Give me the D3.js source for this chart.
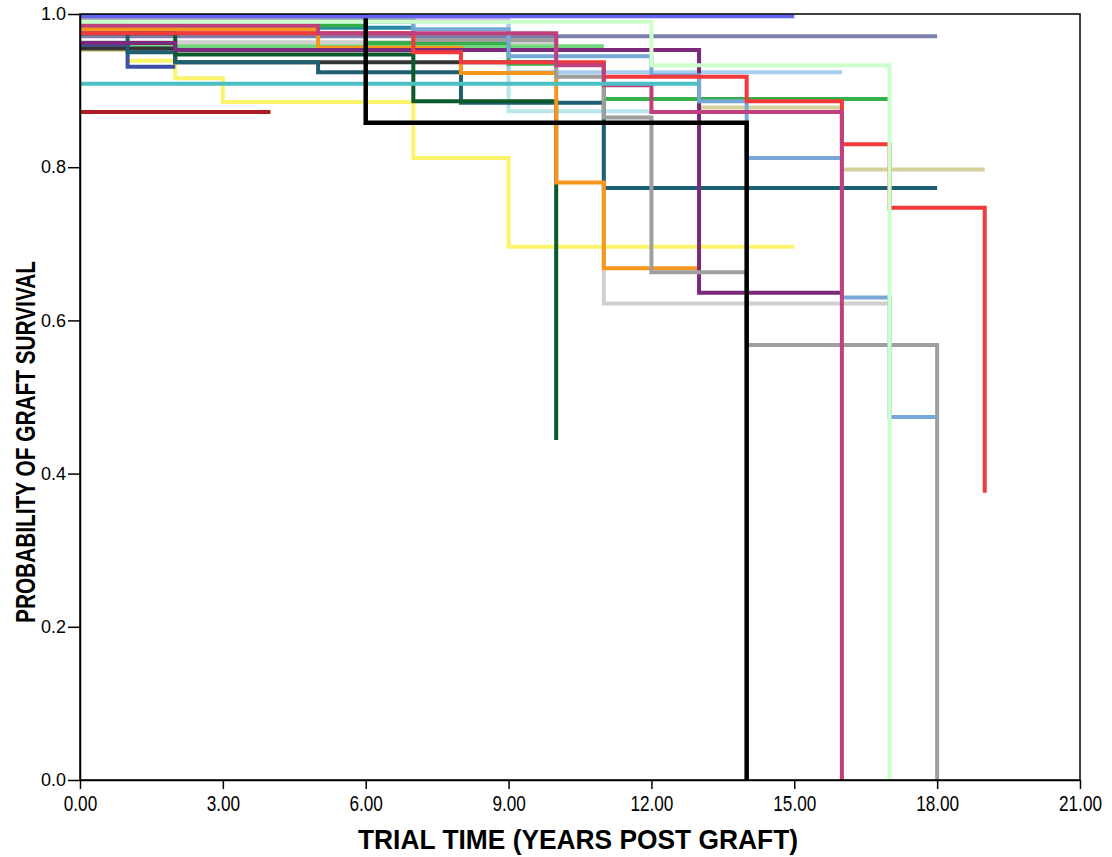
<!DOCTYPE html>
<html>
<head>
<meta charset="utf-8">
<script src="https://cdn.jsdelivr.net/npm/d3@7/dist/d3.min.js"></script>
<style>
  html, body { margin: 0; padding: 0; background: #ffffff; }
  svg { display: block; }
</style>
</head>
<body>
<svg id="chart" width="1112" height="857"></svg>
<script>
// Kaplan-Meier style graft survival curves, one per cohort.
// Each series: list of [year, survival] steps; the curve holds each value until the next step.
const lightGray  = [[0, 0.963], [10, 0.918], [11, 0.622]];
const paleCyan   = [[0, 0.990], [9, 0.873]];
const lightBlue  = [[0, 0.993], [9, 0.924]];
const slate      = [[0, 0.971]];
const pink       = [[0, 0.990], [1, 0.978]];
const tealBlue   = [[0, 0.982]];
const lavender   = [[0, 0.993]];
const khaki      = [[0, 0.953], [13, 0.878], [16, 0.797]];
const yellow     = [[0, 0.955], [1, 0.939], [2, 0.916], [3, 0.885], [7, 0.812], [9, 0.696]];
const lightGreen = [[0, 0.958]];
const darkBlue   = [[0, 0.960], [1, 0.931]];
const charcoal   = [[0, 0.955], [2, 0.937]];
const green      = [[0, 0.985], [6, 0.962], [9, 0.935], [11, 0.889]];
const darkTeal   = [[0, 0.985], [1, 0.950], [2, 0.937], [5, 0.924], [8, 0.884], [11, 0.773]];
const darkGreen  = [[0, 0.975], [2, 0.947], [7, 0.886], [10, 0.444]];
const orange     = [[0, 0.980], [5, 0.956], [8, 0.923], [10, 0.780], [11, 0.668]];
const purple     = [[0, 0.962], [2, 0.953], [13, 0.636]];
const gray       = [[0, 0.992], [7, 0.966], [10, 0.918], [11, 0.865], [12, 0.663], [14, 0.568], [18, 0]];
const steelBlue  = [[0, 0.990], [7, 0.980], [9, 0.945], [12, 0.920], [13, 0.886], [14, 0.812], [16, 0.630], [17, 0.474]];
const red        = [[0, 0.975], [7, 0.950], [8, 0.937], [11, 0.918], [14, 0.886], [16, 0.830], [17, 0.747], [19, 0.375]];
const magenta    = [[0, 0.985], [5, 0.975], [10, 0.933], [11, 0.907], [12, 0.872], [16, 0]];
const cyan       = [[0, 0.909]];
const darkRed    = [[0, 0.872]];
const paleGreen  = [[0, 0.990], [12, 0.933], [17, 0]];
const black      = [[0, 1.000], [6, 0.858], [14, 0]];
const periwinkle = [[0, 0.997]];

// Last follow-up year of each series (same order as seriesSteps)
const seriesSteps = [lightGray, paleCyan, lightBlue, slate, pink, tealBlue, lavender,
  khaki, yellow, lightGreen, darkBlue, charcoal, green, darkTeal, darkGreen, orange, purple,
  gray, steelBlue, red, magenta, cyan, darkRed, paleGreen, black, periwinkle];
const seriesEnd = [17, 12, 16, 18, 5, 7, 9,
  19, 15, 11, 2, 10, 17, 18, 10, 13, 16,
  18, 18, 19, 16, 13, 4, 17, 14, 15];
const seriesColors = ["#d0d0d0", "#b8e6ea", "#a9cdee", "#7b7fab", "#e07ab4", "#2a88a8", "#d4b4f0",
  "#d6d09c", "#fcf46a", "#72d67f", "#3b4fa8", "#353535", "#35b048", "#1e5f74", "#0b5a2e", "#f7961d", "#7b2a7b",
  "#9f9f9f", "#78a8d8", "#f03a3c", "#c0407e", "#4bc0c4", "#b01c24", "#ccffcc", "#000000", "#6464ee"];

const xTicks = [0, 3, 6, 9, 12, 15, 18, 21];
const yTicks = [0, 0.2, 0.4, 0.6, 0.8, 1.0];
const xTitle = "TRIAL TIME (YEARS POST GRAFT)";
const yTitle = "PROBABILITY OF GRAFT SURVIVAL";

const plotLeft = 80, plotRight = 1080, plotTop = 14, plotBottom = 780;
const svg = d3.select("#chart");
const x = d3.scaleLinear().domain([0, 21]).range([plotLeft, plotRight]);
const y = d3.scaleLinear().domain([0, 1]).range([plotBottom, plotTop]);

svg.append("defs").append("clipPath").attr("id", "plot-clip")
  .append("rect")
  .attr("x", plotLeft).attr("y", plotTop)
  .attr("width", plotRight - plotLeft).attr("height", plotBottom - plotTop);

// survival curves
const line = d3.line().x(d => x(d[0])).y(d => y(d[1])).curve(d3.curveStepAfter);
const curves = svg.append("g")
  .attr("clip-path", "url(#plot-clip)")
  .attr("fill", "none").attr("stroke-linejoin", "miter").attr("stroke-linecap", "butt");
seriesSteps.forEach((steps, i) => {
  const pts = steps.concat([[seriesEnd[i], steps[steps.length - 1][1]]]);
  curves.append("path")
    .attr("d", line(pts))
    .attr("stroke", seriesColors[i])
    .attr("stroke-width", seriesColors[i] === "#000000" ? 4.5 : 4);
});

// frame
svg.append("rect")
  .attr("x", plotLeft).attr("y", plotTop)
  .attr("width", plotRight - plotLeft).attr("height", plotBottom - plotTop)
  .attr("fill", "none").attr("stroke", "#000").attr("stroke-width", 1.5);

// axes
const xAxis = svg.append("g").attr("transform", `translate(0,${plotBottom})`)
  .call(d3.axisBottom(x).tickValues(xTicks).tickFormat(d3.format(".2f")).tickSize(9).tickSizeOuter(0));
xAxis.select(".domain").attr("stroke-width", 1.5);
xAxis.selectAll(".tick line").attr("stroke-width", 1.5);
xAxis.selectAll(".tick text")
  .attr("dy", "0.71em").attr("y", 15)
  .attr("transform", "scale(0.78,1)")
  .style("font-family", "'Liberation Sans', Arial, sans-serif")
  .style("font-size", "22px").attr("fill", "#000");

const yAxis = svg.append("g").attr("transform", `translate(${plotLeft},0)`)
  .call(d3.axisLeft(y).tickValues(yTicks).tickFormat(d3.format(".1f")).tickSize(12).tickSizeOuter(0));
yAxis.select(".domain").attr("stroke-width", 1.5);
yAxis.selectAll(".tick line").attr("stroke-width", 1.5);
yAxis.selectAll(".tick text")
  .attr("x", -14)
  .style("font-family", "'Liberation Sans', Arial, sans-serif")
  .style("font-size", "18px").attr("fill", "#000");

// axis titles
svg.append("text")
  .attr("x", 578).attr("y", 849)
  .attr("text-anchor", "middle")
  .attr("textLength", 440).attr("lengthAdjust", "spacingAndGlyphs")
  .style("font-family", "'Liberation Sans', Arial, sans-serif")
  .style("font-weight", "bold").style("font-size", "28px")
  .text(xTitle);

svg.append("text")
  .attr("transform", "translate(35,442) rotate(-90)")
  .attr("text-anchor", "middle")
  .attr("textLength", 362).attr("lengthAdjust", "spacingAndGlyphs")
  .style("font-family", "'Liberation Sans', Arial, sans-serif")
  .style("font-weight", "bold").style("font-size", "28px")
  .text(yTitle);
</script>
</body>
</html>
